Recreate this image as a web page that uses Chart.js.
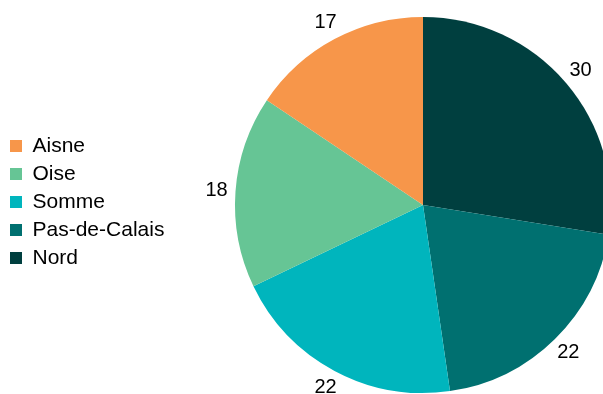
<!DOCTYPE html>
<html>
<head>
<meta charset="utf-8">
<script src="https://cdn.jsdelivr.net/npm/chart.js@4/dist/chart.umd.min.js"></script>
<style>
  html, body { margin: 0; padding: 0; background: #fff; overflow: hidden; }
  #wrap { position: relative; width: 620px; height: 394px; }
</style>
</head>
<body>
<div id="wrap"><canvas id="chart"></canvas></div>
<script>
// Departments, drawn clockwise from 12 o'clock
const departments = ["Nord", "Pas-de-Calais", "Somme", "Oise", "Aisne"];
const counts = [30, 22, 22, 18, 17];
const sliceColors = ["#003f3f", "#007070", "#00b5bd", "#66c595", "#f7964a"];

const FONT = "'Liberation Sans', Arial, sans-serif";

// Values printed just outside each slice
const outsideLabels = {
  id: "outsideLabels",
  afterDatasetsDraw(chart) {
    const ctx = chart.ctx;
    const meta = chart.getDatasetMeta(0);
    ctx.save();
    ctx.font = "20px " + FONT;
    ctx.fillStyle = "#000";
    ctx.textAlign = "center";
    ctx.textBaseline = "middle";
    meta.data.forEach((arc, i) => {
      const { x, y, startAngle, endAngle, outerRadius } = arc.getProps(
        ["x", "y", "startAngle", "endAngle", "outerRadius"], true);
      const mid = (startAngle + endAngle) / 2;
      const r = outerRadius + 19;
      ctx.fillText(String(counts[i]), x + Math.cos(mid) * r, y + Math.sin(mid) * r);
    });
    ctx.restore();
  }
};

// Fixed legend column so the pie sits to its right, items nudged up a little
const legendWidth = {
  id: "legendWidth",
  beforeInit(chart) {
    const fit = chart.legend.fit;
    chart.legend.fit = function () {
      fit.bind(chart.legend)();
      this.width = 232;
    };
  },
  afterLayout(chart) {
    chart.legend.top -= 3;
    chart.legend.bottom -= 3;
  }
};

new Chart(document.getElementById("chart"), {
  type: "pie",
  data: {
    labels: departments,
    datasets: [{
      data: counts,
      backgroundColor: sliceColors,
      borderWidth: 0
    }]
  },
  options: {
    responsive: true,
    maintainAspectRatio: false,
    animation: false,
    layout: { padding: { top: 17, bottom: 1, right: 9, left: 3 } },
    plugins: {
      tooltip: { enabled: false },
      legend: {
        position: "left",
        reverse: true,
        labels: {
          boxWidth: 12,
          boxHeight: 12,
          padding: 7,
          color: "#000",
          font: { family: FONT, size: 21, lineHeight: 1.0 }
        }
      }
    }
  },
  plugins: [legendWidth, outsideLabels]
});
</script>
</body>
</html>
